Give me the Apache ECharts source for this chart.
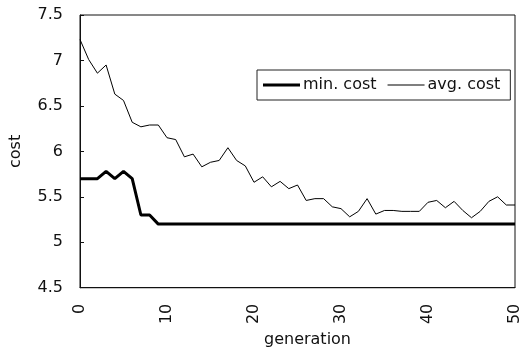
<!DOCTYPE html>
<html>
<head>
<meta charset="utf-8">
<script src="https://cdn.jsdelivr.net/npm/echarts@6/dist/echarts.min.js"></script>
<style>
  html, body { margin: 0; padding: 0; background: #fff; }
  #chart { width: 523px; height: 353px; }
</style>
</head>
<body>
<div id="chart"></div>
<script>
// generation index 0..50
const generations = Array.from({ length: 51 }, (_, i) => i);

// minimum cost per generation
const minCost = [
  5.7, 5.7, 5.7, 5.78, 5.7, 5.78, 5.7, 5.3, 5.3, 5.2,
  5.2, 5.2, 5.2, 5.2, 5.2, 5.2, 5.2, 5.2, 5.2, 5.2,
  5.2, 5.2, 5.2, 5.2, 5.2, 5.2, 5.2, 5.2, 5.2, 5.2,
  5.2, 5.2, 5.2, 5.2, 5.2, 5.2, 5.2, 5.2, 5.2, 5.2,
  5.2, 5.2, 5.2, 5.2, 5.2, 5.2, 5.2, 5.2, 5.2, 5.2,
  5.2
];

// average cost per generation
const avgCost = [
  7.23, 7.01, 6.86, 6.95, 6.63, 6.56, 6.32, 6.27, 6.29, 6.29,
  6.15, 6.13, 5.94, 5.97, 5.83, 5.88, 5.90, 6.04, 5.90, 5.84,
  5.66, 5.72, 5.61, 5.67, 5.59, 5.63, 5.46, 5.48, 5.48, 5.39,
  5.37, 5.28, 5.34, 5.48, 5.31, 5.35, 5.35, 5.34, 5.34, 5.34,
  5.44, 5.46, 5.38, 5.45, 5.35, 5.27, 5.34, 5.45, 5.50, 5.41,
  5.41
];

const font = 'DejaVu Sans';
const chart = echarts.init(document.getElementById('chart'));

chart.setOption({
  animation: false,
  backgroundColor: '#fff',
  grid: {
    left: 79, right: 3, top: 15, bottom: 63,
    show: true, borderColor: '#111', borderWidth: 1
  },
  legend: {
    left: 257, top: 70,
    orient: 'horizontal',
    itemWidth: 37, itemHeight: 14, itemGap: 11,
    padding: [7, 10, 7, 6],
    borderColor: '#222', borderWidth: 1,
    backgroundColor: '#fff',
    textStyle: { fontFamily: font, fontSize: 16, color: '#111', padding: [0, 0, 0, -2] },
    data: [
      { name: 'min. cost', icon: 'path://M0,0 L37,0 L37,3 L0,3 Z', itemStyle: { color: '#000' } },
      { name: 'avg. cost', icon: 'path://M0,0 L37,0 L37,1 L0,1 Z', itemStyle: { color: '#000' } }
    ]
  },
  xAxis: {
    type: 'value',
    min: 0, max: 50, interval: 10,
    name: 'generation',
    nameLocation: 'middle',
    nameGap: 38,
    nameTextStyle: { fontFamily: font, fontSize: 16, color: '#111', padding: [0, 0, 0, 20] },
    axisLine: { show: true, lineStyle: { color: '#111' } },
    axisTick: { show: false },
    splitLine: { show: false },
    axisLabel: { rotate: 90, margin: 16, fontFamily: font, fontSize: 16, color: '#111' }
  },
  yAxis: {
    type: 'value',
    min: 4.5, max: 7.5, interval: 0.5,
    name: 'cost',
    nameLocation: 'middle',
    nameGap: 56,
    nameTextStyle: { fontFamily: font, fontSize: 16, color: '#111' },
    axisLine: { show: true, lineStyle: { color: '#111' } },
    axisTick: { show: true, inside: true, length: 4, lineStyle: { color: '#111' } },
    splitLine: { show: false },
    axisLabel: { margin: 17, fontFamily: font, fontSize: 16, color: '#111' }
  },
  series: [
    {
      name: 'min. cost',
      type: 'line',
      symbol: 'none',
      data: generations.map((g, i) => [g, minCost[i]]),
      lineStyle: { color: '#000', width: 3 },
      itemStyle: { color: '#000' },
      z: 3
    },
    {
      name: 'avg. cost',
      type: 'line',
      symbol: 'none',
      data: generations.map((g, i) => [g, avgCost[i]]),
      lineStyle: { color: '#000', width: 1 },
      itemStyle: { color: '#000' },
      z: 2
    }
  ]
});
</script>
</body>
</html>
